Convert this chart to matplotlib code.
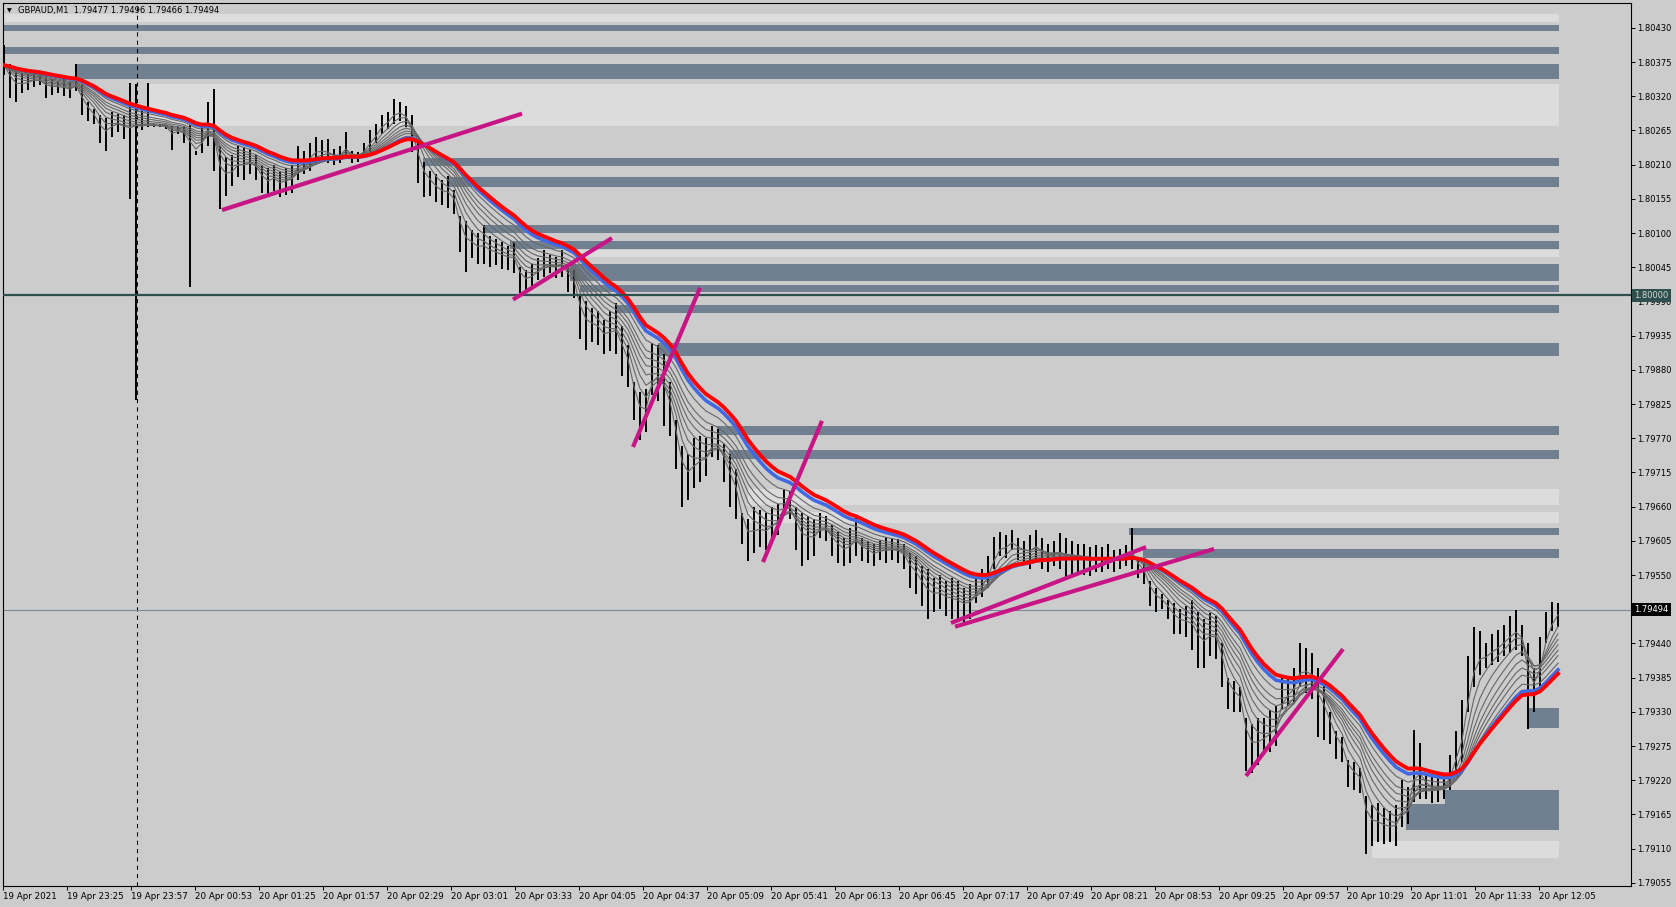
import numpy as np
import pandas as pd
import matplotlib
matplotlib.use("Agg")
import matplotlib.pyplot as plt
from matplotlib.transforms import blended_transform_factory

# ---------------- data (3-minute aggregated bars, GBPAUD) ----------------
highs = [
    1.80402, 1.80372, 1.80360, 1.80358, 1.80356, 1.80362, 1.80358, 1.80352, 1.80348, 1.80345,
    1.80348, 1.80345, 1.80372, 1.80340, 1.80310, 1.80300, 1.80290, 1.80285, 1.80295, 1.80292,
    1.80290, 1.80341, 1.80339, 1.80300, 1.80341, 1.80276, 1.80275, 1.80274, 1.80272, 1.80270,
    1.80272, 1.80274, 1.80232, 1.80275, 1.80310, 1.80331, 1.80240, 1.80222, 1.80225, 1.80240,
    1.80238, 1.80235, 1.80225, 1.80210, 1.80205, 1.80210, 1.80200, 1.80205, 1.80210, 1.80240,
    1.80232, 1.80245, 1.80255, 1.80250, 1.80252, 1.80235, 1.80240, 1.80263, 1.80232, 1.80230,
    1.80245, 1.80265, 1.80276, 1.80290, 1.80295, 1.80315, 1.80310, 1.80305, 1.80290, 1.80250,
    1.80215, 1.80200, 1.80195, 1.80185, 1.80191, 1.80170, 1.80128, 1.80120, 1.80105, 1.80100,
    1.80113, 1.80095, 1.80090, 1.80085, 1.80080, 1.80086, 1.80045, 1.80040, 1.80050, 1.80060,
    1.80073, 1.80065, 1.80062, 1.80073, 1.80050, 1.80040, 1.80000, 1.79990, 1.79980, 1.79975,
    1.79960, 1.79975, 1.79987, 1.79950, 1.79920, 1.79860, 1.79845, 1.79850, 1.79923, 1.79920,
    1.79905, 1.79860, 1.79800, 1.79757, 1.79745, 1.79770, 1.79773, 1.79770, 1.79789, 1.79785,
    1.79760, 1.79745, 1.79720, 1.79650, 1.79640, 1.79660, 1.79655, 1.79650, 1.79660, 1.79665,
    1.79687, 1.79685, 1.79660, 1.79650, 1.79645, 1.79640, 1.79650, 1.79645, 1.79630, 1.79620,
    1.79610, 1.79625, 1.79644, 1.79610, 1.79605, 1.79600, 1.79605, 1.79612, 1.79610, 1.79608,
    1.79600, 1.79585, 1.79580, 1.79565, 1.79560, 1.79545, 1.79550, 1.79540, 1.79545, 1.79540,
    1.79530, 1.79535, 1.79545, 1.79560, 1.79580, 1.79612, 1.79620, 1.79615, 1.79622, 1.79610,
    1.79605, 1.79615, 1.79623, 1.79610, 1.79600, 1.79605, 1.79617, 1.79610, 1.79605, 1.79600,
    1.79600, 1.79595, 1.79598, 1.79595, 1.79600, 1.79590, 1.79592, 1.79598, 1.79625, 1.79575,
    1.79570, 1.79540, 1.79530, 1.79520, 1.79510, 1.79505, 1.79495, 1.79500, 1.79510, 1.79490,
    1.79480, 1.79489, 1.79485, 1.79440, 1.79385, 1.79380, 1.79370, 1.79320, 1.79310, 1.79320,
    1.79320, 1.79333, 1.79340, 1.79385, 1.79387, 1.79400, 1.79440, 1.79432, 1.79425, 1.79400,
    1.79380, 1.79330, 1.79300, 1.79290, 1.79252, 1.79250, 1.79240, 1.79195, 1.79180, 1.79183,
    1.79175, 1.79170, 1.79180, 1.79220, 1.79210, 1.79301, 1.79280, 1.79231, 1.79225, 1.79230,
    1.79230, 1.79260, 1.79300, 1.79349, 1.79420, 1.79467, 1.79460, 1.79440, 1.79455, 1.79462,
    1.79470, 1.79485, 1.79494, 1.79470, 1.79440, 1.79400, 1.79451, 1.79490, 1.79507, 1.79505,
]
lows = [
    1.80355, 1.80318, 1.80310, 1.80325, 1.80330, 1.80335, 1.80338, 1.80318, 1.80322, 1.80325,
    1.80320, 1.80318, 1.80328, 1.80290, 1.80280, 1.80275, 1.80245, 1.80232, 1.80255, 1.80262,
    1.80252, 1.80154, 1.79832, 1.80265, 1.80270, 1.80270, 1.80270, 1.80268, 1.80234, 1.80260,
    1.80245, 1.80014, 1.80226, 1.80228, 1.80240, 1.80200, 1.80138, 1.80160, 1.80175, 1.80190,
    1.80185, 1.80195, 1.80185, 1.80165, 1.80160, 1.80168, 1.80158, 1.80162, 1.80165, 1.80185,
    1.80195, 1.80200, 1.80210, 1.80215, 1.80212, 1.80210, 1.80212, 1.80222, 1.80212, 1.80215,
    1.80222, 1.80230, 1.80245, 1.80260, 1.80268, 1.80275, 1.80280, 1.80270, 1.80230, 1.80180,
    1.80158, 1.80160, 1.80150, 1.80145, 1.80140, 1.80130, 1.80070, 1.80038, 1.80060, 1.80050,
    1.80050, 1.80045, 1.80048, 1.80042, 1.80040, 1.80035, 1.80003, 1.80005, 1.80015, 1.80025,
    1.80030, 1.80035, 1.80028, 1.80030, 1.80005, 1.79995, 1.79930, 1.79912, 1.79925, 1.79920,
    1.79905, 1.79910, 1.79905, 1.79870, 1.79853, 1.79800, 1.79767, 1.79780, 1.79840, 1.79830,
    1.79790, 1.79773, 1.79720, 1.79660, 1.79670, 1.79690, 1.79700, 1.79710, 1.79740, 1.79735,
    1.79700, 1.79660, 1.79640, 1.79600, 1.79572, 1.79585, 1.79595, 1.79590, 1.79607, 1.79615,
    1.79645, 1.79640, 1.79590, 1.79565, 1.79575, 1.79580, 1.79610, 1.79605, 1.79580, 1.79570,
    1.79565, 1.79570, 1.79580, 1.79572, 1.79570, 1.79565, 1.79575, 1.79570, 1.79575, 1.79570,
    1.79560, 1.79530, 1.79520, 1.79500, 1.79480, 1.79490, 1.79495, 1.79485, 1.79480, 1.79475,
    1.79473, 1.79480, 1.79505, 1.79515, 1.79530, 1.79560, 1.79580, 1.79578, 1.79590, 1.79575,
    1.79570, 1.79560, 1.79575, 1.79560, 1.79555, 1.79565, 1.79560, 1.79545, 1.79550, 1.79555,
    1.79550, 1.79548, 1.79555, 1.79555, 1.79560, 1.79555, 1.79560, 1.79565, 1.79560, 1.79545,
    1.79535, 1.79500, 1.79490, 1.79495, 1.79480, 1.79455, 1.79455, 1.79450, 1.79430, 1.79400,
    1.79400, 1.79420, 1.79415, 1.79370, 1.79335, 1.79330, 1.79330, 1.79235, 1.79231, 1.79245,
    1.79260, 1.79265, 1.79275, 1.79335, 1.79340, 1.79345, 1.79370, 1.79360, 1.79350, 1.79290,
    1.79285, 1.79279, 1.79255, 1.79250, 1.79210, 1.79205, 1.79200, 1.79102, 1.79115, 1.79120,
    1.79118, 1.79120, 1.79115, 1.79145, 1.79150, 1.79185, 1.79190, 1.79190, 1.79183, 1.79185,
    1.79190, 1.79205, 1.79235, 1.79250, 1.79330, 1.79370, 1.79390, 1.79400, 1.79405, 1.79410,
    1.79420, 1.79425, 1.79430, 1.79420, 1.79303, 1.79330, 1.79370, 1.79440, 1.79460, 1.79466,
]
closes = [
    1.80370, 1.80345, 1.80335, 1.80340, 1.80343, 1.80348, 1.80345, 1.80335, 1.80335, 1.80335,
    1.80334, 1.80330, 1.80340, 1.80310, 1.80295, 1.80285, 1.80265, 1.80260, 1.80275, 1.80278,
    1.80270, 1.80268, 1.80275, 1.80272, 1.80275, 1.80273, 1.80272, 1.80271, 1.80255, 1.80265,
    1.80260, 1.80240, 1.80229, 1.80250, 1.80275, 1.80250, 1.80185, 1.80190, 1.80200, 1.80215,
    1.80210, 1.80215, 1.80205, 1.80185, 1.80180, 1.80190, 1.80178, 1.80185, 1.80190, 1.80215,
    1.80215, 1.80225, 1.80235, 1.80232, 1.80230, 1.80222, 1.80225, 1.80240, 1.80222, 1.80222,
    1.80235, 1.80250, 1.80262, 1.80278, 1.80282, 1.80295, 1.80295, 1.80285, 1.80255, 1.80210,
    1.80185, 1.80180, 1.80170, 1.80165, 1.80165, 1.80150, 1.80100, 1.80080, 1.80082, 1.80075,
    1.80080, 1.80070, 1.80068, 1.80063, 1.80060, 1.80060, 1.80025, 1.80022, 1.80032, 1.80042,
    1.80052, 1.80050, 1.80045, 1.80052, 1.80028, 1.80018, 1.79965, 1.79950, 1.79952, 1.79948,
    1.79932, 1.79942, 1.79945, 1.79910, 1.79885, 1.79830, 1.79805, 1.79815, 1.79880, 1.79875,
    1.79848, 1.79815, 1.79760, 1.79708, 1.79708, 1.79730, 1.79737, 1.79740, 1.79765, 1.79760,
    1.79730, 1.79702, 1.79680, 1.79625, 1.79606, 1.79622, 1.79625, 1.79620, 1.79633, 1.79640,
    1.79666, 1.79662, 1.79625, 1.79608, 1.79610, 1.79610, 1.79630, 1.79625, 1.79605, 1.79595,
    1.79588, 1.79598, 1.79612, 1.79591, 1.79588, 1.79582, 1.79590, 1.79591, 1.79592, 1.79589,
    1.79580, 1.79558, 1.79550, 1.79532, 1.79520, 1.79518, 1.79522, 1.79512, 1.79512, 1.79508,
    1.79502, 1.79508, 1.79525, 1.79538, 1.79555, 1.79586, 1.79600, 1.79596, 1.79606, 1.79592,
    1.79588, 1.79588, 1.79599, 1.79585, 1.79578, 1.79585, 1.79588, 1.79578, 1.79578, 1.79578,
    1.79575, 1.79572, 1.79576, 1.79575, 1.79580, 1.79572, 1.79576, 1.79582, 1.79592, 1.79560,
    1.79552, 1.79520, 1.79510, 1.79508, 1.79495, 1.79480, 1.79475, 1.79475, 1.79470, 1.79445,
    1.79440, 1.79455, 1.79450, 1.79405, 1.79360, 1.79355, 1.79350, 1.79278, 1.79270, 1.79282,
    1.79290, 1.79299, 1.79308, 1.79360, 1.79364, 1.79372, 1.79405, 1.79396, 1.79388, 1.79345,
    1.79332, 1.79305, 1.79278, 1.79270, 1.79231, 1.79228, 1.79220, 1.79148, 1.79148, 1.79152,
    1.79146, 1.79145, 1.79148, 1.79182, 1.79180, 1.79243, 1.79235, 1.79210, 1.79204, 1.79208,
    1.79210, 1.79232, 1.79268, 1.79300, 1.79375, 1.79418, 1.79425, 1.79420, 1.79430, 1.79436,
    1.79445, 1.79455, 1.79462, 1.79445, 1.79372, 1.79365, 1.79410, 1.79465, 1.79484, 1.79494,
]

symbol_title = "GBPAUD,M1"
last_bar_ohlc = [1.79477, 1.79496, 1.79466, 1.79494]

time_labels = ["19 Apr 2021", "19 Apr 23:25", "19 Apr 23:57", "20 Apr 00:53", "20 Apr 01:25",
               "20 Apr 01:57", "20 Apr 02:29", "20 Apr 03:01", "20 Apr 03:33", "20 Apr 04:05",
               "20 Apr 04:37", "20 Apr 05:09", "20 Apr 05:41", "20 Apr 06:13", "20 Apr 06:45",
               "20 Apr 07:17", "20 Apr 07:49", "20 Apr 08:21", "20 Apr 08:53", "20 Apr 09:25",
               "20 Apr 09:57", "20 Apr 10:29", "20 Apr 11:01", "20 Apr 11:33", "20 Apr 12:05"]
price_labels = ["1.80430", "1.80375", "1.80320", "1.80265", "1.80210", "1.80155", "1.80100",
                "1.80045", "1.79990", "1.79935", "1.79880", "1.79825", "1.79770", "1.79715",
                "1.79660", "1.79605", "1.79550", "1.79495", "1.79440", "1.79385", "1.79330",
                "1.79275", "1.79220", "1.79165", "1.79110", "1.79055"]

round_level = 1.80000
day_separator_bar = 22.17

# supply / demand zones (price bottom, price top, starting bar, shade)
zone_bottom = [1.80440, 1.80425, 1.80388, 1.80348, 1.80272, 1.80208, 1.80174, 1.80100,
               1.80075, 1.80062, 1.80023, 1.80005, 1.79972, 1.79902, 1.79775, 1.79737,
               1.79663, 1.79634, 1.79615, 1.79578, 1.79304, 1.79140, 1.79140, 1.79095]
zone_top = [1.80452, 1.80435, 1.80399, 1.80372, 1.80340, 1.80221, 1.80190, 1.80113,
            1.80087, 1.80073, 1.80050, 1.80017, 1.79985, 1.79923, 1.79790, 1.79751,
            1.79689, 1.79652, 1.79626, 1.79592, 1.79336, 1.79204, 1.79182, 1.79122]
zone_from = [-1, -1, -1, 11.83, 24.0, 69.83, 73.83, 79.83,
             84.33, 95.5, 94.33, 96.0, 101.83, 109.0, 118.83, 120.83,
             124.0, 124.0, 187.5, 189.83, 254.17, 240.17, 233.67, 228.0]
zone_shade = ["light", "dark", "dark", "dark", "light", "dark", "dark", "dark",
              "dark", "light", "dark", "dark", "dark", "dark", "dark", "dark",
              "light", "light", "dark", "dark", "dark", "dark", "dark", "light"]

# hand-drawn trend lines (bar index, price)
trend_t0 = [36.33, 84.83, 104.83, 126.5, 157.83, 158.5, 207.0]
trend_p0 = [1.80137, 1.79993, 1.79756, 1.79571, 1.79473, 1.79467, 1.79227]
trend_t1 = [86.33, 101.33, 116.0, 136.33, 190.33, 201.67, 223.17]
trend_p1 = [1.80292, 1.80092, 1.80012, 1.79798, 1.79595, 1.79592, 1.79431]

ribbon_spans = [2, 4, 6, 8, 10, 12, 14, 17]
blue_span = 20
red_span = 22

# ---------------- figure ----------------
W, H = 1676, 907
BG = "#CCCCCC"
fig = plt.figure(figsize=(W / 100, H / 100), dpi=100, facecolor=BG)
ax = fig.add_axes([2.5 / W, (H - 886) / H, 1628 / W, 883 / H])
ax.set_facecolor(BG)

n = len(highs)
x = np.arange(n)
ax.set_xlim(-0.25, 271.08)
ax.set_ylim(1.79050, 1.80470)

zone_end = x[-1] + 0.17
shade_col = {"dark": "#708090", "light": "#DCDCDC"}
for lo, hi, zf, sh in zip(zone_bottom, zone_top, zone_from, zone_shade):
    ax.fill_between([zf, zone_end], lo, hi, color=shade_col[sh], lw=0, zorder=1)

ax.axvline(day_separator_bar, color="black", lw=0.75, ls=(0, (4, 4)), zorder=2)
ax.axhline(closes[-1], color="#778899", lw=0.75, zorder=2)

ax.vlines(x, lows, highs, colors="black", lw=1.4, zorder=3)

s = pd.Series(closes)
for sp in ribbon_spans:
    ax.plot(x, s.ewm(span=sp, adjust=False).mean(), color="#666666", lw=0.8, zorder=4)
ax.plot(x, s.ewm(span=blue_span, adjust=False).mean(), color="#4169E1", lw=2.6, zorder=5)
ax.plot(x, s.ewm(span=red_span, adjust=False).mean(), color="#FF0000", lw=2.8, zorder=6)

ax.axhline(round_level, color="#2F4F4F", lw=1.6, zorder=6)

for t0, p0, t1, p1 in zip(trend_t0, trend_p0, trend_t1, trend_p1):
    ax.plot([t0, t1], [p0, p1], color="#C71585", lw=3.0, solid_capstyle="butt", zorder=7)

# axes / ticks
for sp in ax.spines.values():
    sp.set_color("black")
    sp.set_linewidth(0.8)
ax.yaxis.tick_right()
ax.set_yticks([float(v) for v in price_labels])
ax.set_yticklabels(price_labels, fontsize=6, family="DejaVu Sans")
ax.tick_params(axis="y", direction="out", length=3, width=0.7, pad=1.5, colors="black")
tick_pos = [k * 32 / 3 - 1 / 6 for k in range(len(time_labels))]
ax.set_xticks(tick_pos)
ax.set_xticklabels(time_labels, fontsize=6.3, ha="left", family="DejaVu Sans")
ax.tick_params(axis="x", direction="out", length=3, width=0.7, pad=1.5, colors="black")

trans = blended_transform_factory(ax.transAxes, ax.transData)
ax.text(1.0025, round_level, f"{round_level:.5f}", transform=trans, fontsize=6, color="#D8D8D8",
        va="center", ha="left", clip_on=False, zorder=20,
        bbox=dict(boxstyle="square,pad=0.25", fc="#2F4F4F", ec="none"))
ax.text(1.0025, closes[-1], f"{closes[-1]:.5f}", transform=trans, fontsize=6, color="white",
        va="center", ha="left", clip_on=False, zorder=20,
        bbox=dict(boxstyle="square,pad=0.25", fc="black", ec="none"))

title = symbol_title + "  " + " ".join(f"{v:.5f}" for v in last_bar_ohlc)
fig.text(18 / W, 1 - 10.5 / H, title, fontsize=6, va="center", ha="left", color="black")
fig.text(7 / W, 1 - 11 / H, "\u25BC", fontsize=4.5, va="center", ha="left", color="black")

fig.savefig("out.png", dpi=100, facecolor=BG)
